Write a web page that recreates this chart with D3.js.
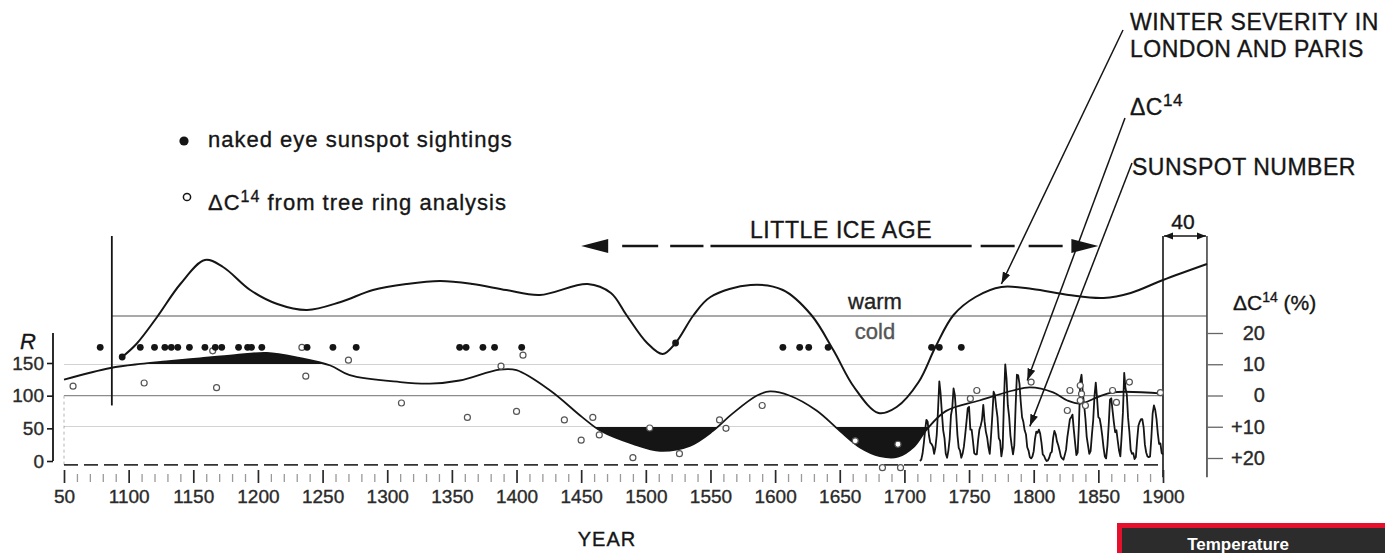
<!DOCTYPE html>
<html>
<head>
<meta charset="utf-8">
<script src="https://cdn.jsdelivr.net/npm/d3@7"></script>
<style>
  html, body { margin: 0; padding: 0; background: #fff; }
  svg { display: block; font-family: "Liberation Sans", Arial, Helvetica, sans-serif; }
  svg text { stroke: currentColor; stroke-width: 0.35px; paint-order: stroke; }
  svg text.plain { stroke: none; }
</style>
</head>
<body>
<svg id="chart" width="1385" height="553" style="color:#151515"></svg>
<script>
// ---------- axis ticks ----------
const yearTicks = [1050, 1100, 1150, 1200, 1250, 1300, 1350, 1400, 1450, 1500, 1550, 1600, 1650, 1700, 1750, 1800, 1850, 1900];
const yearTickLabels = ["50", "1100", "1150", "1200", "1250", "1300", "1350", "1400", "1450", "1500", "1550", "1600", "1650", "1700", "1750", "1800", "1850", "1900"];
const minorYearTicks = [1060,1070,1080,1090,1110,1120,1130,1140,1160,1170,1180,1190,1210,1220,1230,1240,1260,1270,1280,1290,1310,1320,1330,1340,1360,1370,1380,1390,1410,1420,1430,1440,1460,1470,1480,1490,1510,1520,1530,1540,1560,1570,1580,1590,1610,1620,1630,1640,1660,1670,1680,1690,1710,1720,1730,1740,1760,1770,1780,1790,1810,1820,1830,1840,1860,1870,1880,1890];
const rTicks = [0, 50, 100, 150];
const rTickLabels = ["0", "50", "100", "150"];
const c14Ticks = [-20, -10, 0, 10, 20];
const c14TickLabels = ["20", "10", "0", "+10", "+20"];

// ---------- winter severity in London and Paris (index, + = warm) ----------
const winterYears = [1095, 1106, 1122, 1140, 1159, 1173, 1194, 1215, 1238, 1264, 1289, 1315, 1341, 1366, 1392, 1418, 1455, 1473, 1485, 1501, 1513, 1523, 1537, 1550, 1581, 1606, 1628, 1645, 1661, 1680, 1694, 1711, 1724, 1738, 1755, 1775, 1799, 1827, 1854, 1875, 1900, 1934];
const winterIndex = [-2.05, -1.4, -0.05, 1.6, 2.8, 2.45, 1.3, 0.6, 0.3, 0.7, 1.3, 1.6, 1.75, 1.6, 1.3, 1.05, 1.6, 1.15, 0.05, -1.35, -1.9, -1.35, 0.05, 0.95, 1.55, 1.3, 0.05, -1.7, -3.55, -4.85, -4.55, -3.3, -1.55, 0.05, 0.95, 1.45, 1.35, 1.05, 0.9, 1.15, 1.8, 2.6];

// ---------- smoothed ΔC14 (inverted axis) ----------
const c14Years = [1050, 1086, 1109, 1129, 1155, 1182, 1207, 1232, 1256, 1271, 1310, 1333, 1356, 1387, 1400, 1426, 1451, 1465, 1490, 1511, 1534, 1552, 1567, 1586, 1596, 1611, 1632, 1650, 1666, 1681, 1695, 1707, 1717, 1732, 1758, 1784, 1797, 1815, 1826, 1836, 1849, 1861, 1900];
const c14Values = [-5.1, -8.8, -10.1, -10.9, -11.9, -12.9, -13.6, -12.0, -9.6, -6.5, -4.3, -3.8, -4.8, -8.3, -8.1, -1.6, 7.0, 11.3, 15.5, 17.7, 16.1, 11.3, 5.8, 0, -1.3, 0, 4.8, 11.3, 16.7, 19.4, 19.6, 16.5, 11.0, 5.0, 1.6, -1.6, -2.6, -1.0, 1.6, 2.6, 0.6, -1.0, -0.6];

// ---------- ΔC14 from tree ring analysis ----------
const ringYears = [1057, 1112, 1168, 1165, 1234, 1237, 1270, 1311, 1362, 1388, 1400, 1405, 1437, 1450, 1459, 1464, 1490, 1503, 1526, 1557, 1562, 1590, 1662, 1683, 1697, 1695, 1751, 1756, 1798, 1826, 1828, 1836, 1837, 1836, 1840, 1861, 1864, 1874, 1898];
const ringValues = [-3.0, -4.0, -2.5, -14.3, -15.4, -6.2, -11.3, 2.4, 7.0, -9.4, 5.1, -12.9, 7.8, 14.3, 7.0, 12.6, 19.9, 10.4, 18.6, 7.8, 10.5, 3.2, 14.5, 23.1, 23.1, 15.6, 1.0, -1.6, -4.3, 4.8, -1.6, -3.2, -0.5, 1.6, 3.2, -1.6, 2.2, -4.3, -0.9];

// ---------- naked eye sunspot sightings ----------
const sightingYears = [1078, 1109, 1120, 1128, 1133, 1138, 1147, 1159, 1167, 1172, 1185, 1192, 1195, 1203, 1238, 1258, 1276, 1356, 1361, 1374, 1383, 1404, 1606, 1619, 1626, 1641, 1721, 1727, 1744];
const curveSightingYears = [1095, 1523];

// ---------- annual sunspot number, 1712-1900 ----------
const sunspotYears = d3.range(1712, 1901);
const sunspotNumbers = [
  0, 2, 11, 27, 47, 63, 60, 39, 28, 26,
  22, 11, 21, 40, 78, 122, 103, 73, 47, 35,
  11, 5, 16, 34, 70, 81, 111, 101, 73, 40,
  20, 16, 5, 11, 22, 40, 60, 81, 83, 48,
  48, 31, 12, 10, 10, 32, 48, 54, 63, 86,
  61, 45, 36, 21, 11, 38, 70, 106, 101, 82,
  67, 35, 31, 7, 20, 93, 148, 126, 85, 68,
  39, 23, 10, 24, 83, 132, 131, 118, 90, 67,
  60, 47, 41, 21, 16, 6, 4, 7, 15, 34,
  45, 43, 48, 42, 28, 10, 8, 3, 0, 1,
  5, 12, 14, 35, 46, 41, 30, 24, 16, 7,
  4, 2, 9, 17, 36, 50, 64, 67, 71, 48,
  28, 9, 13, 57, 122, 132, 103, 86, 65, 37,
  24, 11, 15, 40, 62, 99, 120, 96, 67, 65,
  54, 39, 21, 7, 4, 23, 55, 94, 96, 77,
  59, 44, 47, 31, 16, 7, 38, 74, 135, 111,
  102, 66, 45, 17, 11, 12, 3, 6, 32, 54,
  60, 64, 64, 52, 25, 13, 7, 6, 7, 36,
  73, 85, 78, 64, 42, 26, 27, 12, 10
];

// ---------- layout ----------
const W = 1385, H = 553;
const svg = d3.select("#chart");
const ink = "#151515";
const grey = "#8c8c8c";

const x = d3.scaleLinear().domain([1050, 1900]).range([64, 1163]);
const yR = d3.scaleLinear().domain([0, 150]).range([461, 363]);      // sunspot number R
const yC = d3.scaleLinear().domain([-20, 20]).range([333, 458]);     // ΔC14 (%)
const yW = d3.scaleLinear().domain([-5, 3]).range([416, 256]);       // winter severity

const recordStartYear = 1087;   // start of the winter record
const lagEndYear = 1934;        // right edge of the 40-year lag box
const liaFrom = 1450, liaTo = 1850, liaSolidFrom = 1550, liaSolidTo = 1752;
const baselineR = -6;
const sightingRowR = 174;

const defs = svg.append("defs");
defs.append("marker")
  .attr("id", "tip").attr("markerUnits", "userSpaceOnUse")
  .attr("viewBox", "0 -5 12 10").attr("refX", 12).attr("refY", 0)
  .attr("markerWidth", 12).attr("markerHeight", 10).attr("orient", "auto")
  .append("path").attr("d", "M0,-4L12,0L0,4Z").attr("fill", ink);
defs.append("marker")
  .attr("id", "tipSmall").attr("markerUnits", "userSpaceOnUse")
  .attr("viewBox", "0 -4 9 8").attr("refX", 9).attr("refY", 0)
  .attr("markerWidth", 9).attr("markerHeight", 8).attr("orient", "auto-start-reverse")
  .append("path").attr("d", "M0,-3.5L9,0L0,3.5Z").attr("fill", ink);
defs.append("clipPath").attr("id", "clipHigh")
  .append("rect").attr("x", 0).attr("y", 0).attr("width", W).attr("height", yC(-10));
defs.append("clipPath").attr("id", "clipLow")
  .append("rect").attr("x", 0).attr("y", yC(10)).attr("width", W).attr("height", H - yC(10));

// ---------- corner tag ----------
svg.append("rect").attr("x", 1119.5).attr("y", 525.5).attr("width", 300).attr("height", 60)
  .attr("fill", "#2c2c2c").attr("stroke", "#e4102c").attr("stroke-width", 5);
svg.append("text").attr("class", "plain").attr("x", 1238).attr("y", 550).attr("text-anchor", "middle")
  .attr("fill", "#fff").attr("font-size", 17).attr("font-weight", "bold").text("Temperature");

// ---------- reference lines ----------
svg.append("line")
  .attr("x1", x(recordStartYear)).attr("x2", x(lagEndYear))
  .attr("y1", yW(0)).attr("y2", yW(0))
  .attr("stroke", grey).attr("stroke-width", 1.4);
svg.append("line")
  .attr("x1", x(1050)).attr("x2", x(1900))
  .attr("y1", yR(100)).attr("y2", yR(100))
  .attr("stroke", grey).attr("stroke-width", 1.4);
svg.append("line")
  .attr("x1", x(1050)).attr("x2", x(1050))
  .attr("y1", yR(100)).attr("y2", yR(baselineR))
  .attr("stroke", "#b5b5b5").attr("stroke-width", 1).attr("stroke-dasharray", "3 3");
svg.append("line")
  .attr("x1", x(recordStartYear)).attr("x2", x(recordStartYear))
  .attr("y1", yW(4)).attr("y2", yR(85))
  .attr("stroke", ink).attr("stroke-width", 1.8);
svg.append("line")
  .attr("x1", x(1050)).attr("x2", x(1900))
  .attr("y1", yR(baselineR)).attr("y2", yR(baselineR))
  .attr("stroke", "#333").attr("stroke-width", 1.6).attr("stroke-dasharray", "14 6");

// lag box
svg.append("line").attr("x1", x(1900)).attr("x2", x(1900))
  .attr("y1", yW(4)).attr("y2", yR(-25)).attr("stroke", ink).attr("stroke-width", 1.6);
svg.append("line").attr("x1", x(lagEndYear)).attr("x2", x(lagEndYear))
  .attr("y1", yW(4)).attr("y2", yR(-25)).attr("stroke", "#444").attr("stroke-width", 1.6);
svg.append("line").attr("x1", x(1900) + 1).attr("x2", x(lagEndYear) - 1)
  .attr("y1", yW(4)).attr("y2", yW(4)).attr("stroke", ink).attr("stroke-width", 1.5)
  .attr("marker-start", "url(#tipSmall)").attr("marker-end", "url(#tipSmall)");
svg.append("text").attr("x", (x(1900) + x(lagEndYear)) / 2 - 2).attr("y", yW(4) - 7)
  .attr("text-anchor", "middle").attr("font-size", 21).attr("fill", ink).text("40");

// ---------- year axis ----------
const xMinor = svg.append("g").attr("transform", "translate(0,474)")
  .call(d3.axisBottom(x).tickValues(minorYearTicks).tickSize(8).tickFormat(""));
xMinor.select(".domain").remove();
xMinor.selectAll("line").attr("stroke", "#9a9a9a").attr("stroke-width", 1.3);

const xMajor = svg.append("g").attr("transform", "translate(0,470)")
  .call(d3.axisBottom(x).tickValues(yearTicks).tickSize(13).tickPadding(7)
    .tickFormat((d, i) => yearTickLabels[i]));
xMajor.select(".domain").remove();
xMajor.selectAll("line").attr("stroke", "#2a2a2a").attr("stroke-width", 1.7);
xMajor.selectAll("text").attr("font-size", 19).attr("fill", "#2a2a2a").style("color", "#2a2a2a")
  .attr("font-family", "Liberation Sans, Arial, sans-serif");

svg.append("text").attr("x", 607).attr("y", 546).attr("text-anchor", "middle")
  .attr("font-size", 20).attr("letter-spacing", 1).attr("fill", ink).text("YEAR");

// ---------- R axis ----------
const rAxis = svg.append("g").attr("transform", "translate(53,0)")
  .call(d3.axisLeft(yR).tickValues(rTicks).tickSize(6).tickPadding(3)
    .tickFormat((d, i) => rTickLabels[i]));
rAxis.select(".domain").remove();
rAxis.selectAll("line").attr("stroke", ink).attr("stroke-width", 1.6);
rAxis.selectAll("text").attr("font-size", 19).attr("fill", "#2a2a2a").style("color", "#2a2a2a")
  .attr("font-family", "Liberation Sans, Arial, sans-serif");
svg.append("line").attr("x1", 53).attr("x2", 53).attr("y1", yC(-20)).attr("y2", yR(0))
  .attr("stroke", ink).attr("stroke-width", 1.8);
svg.append("text").attr("x", 28).attr("y", 349).attr("text-anchor", "middle")
  .attr("font-size", 22).attr("font-style", "italic").attr("fill", ink).text("R");

// ---------- ΔC14 axis ----------
const cAxis = svg.append("g").attr("transform", `translate(${x(lagEndYear)},0)`)
  .call(d3.axisRight(yC).tickValues(c14Ticks).tickSize(16).tickPadding(0)
    .tickFormat((d, i) => c14TickLabels[i]));
cAxis.select(".domain").remove();
cAxis.selectAll("line").attr("stroke", "#666").attr("stroke-width", 1.3);
cAxis.selectAll("text").attr("x", 58).attr("text-anchor", "end")
  .attr("font-size", 20).attr("fill", "#2a2a2a").style("color", "#2a2a2a")
  .attr("font-family", "Liberation Sans, Arial, sans-serif");
const cLabel = svg.append("text").attr("x", 1233).attr("y", 310)
  .attr("font-size", 21).attr("fill", ink);
cLabel.append("tspan").text("ΔC");
cLabel.append("tspan").attr("font-size", 14).attr("dy", -8).text("14");
cLabel.append("tspan").attr("dy", 8).text(" (%)");

// ---------- ΔC14 extremes (filled) ----------
const c14Pts = c14Years.map((yr, i) => [yr, c14Values[i]]);
const c14Curve = d3.curveCatmullRom.alpha(0.5);
svg.append("path").datum(c14Pts)
  .attr("clip-path", "url(#clipHigh)")
  .attr("d", d3.area().x(d => x(d[0])).y0(yC(-10)).y1(d => yC(d[1])).curve(c14Curve))
  .attr("fill", ink);
svg.append("path").datum(c14Pts)
  .attr("clip-path", "url(#clipLow)")
  .attr("d", d3.area().x(d => x(d[0])).y0(yC(10)).y1(d => yC(d[1])).curve(c14Curve))
  .attr("fill", ink);
svg.append("path").datum(c14Pts)
  .attr("d", d3.line().x(d => x(d[0])).y(d => yC(d[1])).curve(c14Curve))
  .attr("fill", "none").attr("stroke", ink).attr("stroke-width", 1.8);

// ---------- sunspot number ----------
svg.append("path").datum(sunspotYears.map((yr, i) => [yr, sunspotNumbers[i]]))
  .attr("d", d3.line().x(d => x(d[0])).y(d => yR(d[1])))
  .attr("fill", "none").attr("stroke", ink).attr("stroke-width", 1.8)
  .attr("stroke-linejoin", "round");

// ---------- winter severity ----------
const winterPts = winterYears.map((yr, i) => [yr, winterIndex[i]]);
svg.append("path").datum(winterPts)
  .attr("d", d3.line().x(d => x(d[0])).y(d => yW(d[1])).curve(d3.curveCatmullRom.alpha(0.5)))
  .attr("fill", "none").attr("stroke", ink).attr("stroke-width", 2);

svg.append("text").attr("x", 875).attr("y", 309).attr("text-anchor", "middle")
  .attr("font-size", 22).attr("fill", "#222").style("color", "#222").text("warm");
svg.append("text").attr("x", 875).attr("y", 339).attr("text-anchor", "middle")
  .attr("font-size", 22).attr("fill", "#555").style("color", "#555").text("cold");

// ---------- tree ring ΔC14 ----------
svg.append("g").selectAll("circle")
  .data(ringYears.map((yr, i) => [yr, ringValues[i]]))
  .join("circle")
  .attr("cx", d => x(d[0])).attr("cy", d => yC(d[1])).attr("r", 3)
  .attr("fill", "#fff").attr("stroke", "#555").attr("stroke-width", 1.2);

// ---------- naked eye sightings ----------
svg.append("g").selectAll("circle")
  .data(sightingYears)
  .join("circle")
  .attr("cx", d => x(d)).attr("cy", yR(sightingRowR)).attr("r", 3.4).attr("fill", ink);
svg.append("g").selectAll("circle")
  .data(curveSightingYears)
  .join("circle")
  .attr("cx", d => x(d)).attr("cy", d => yW(winterIndex[winterYears.indexOf(d)]))
  .attr("r", 3.4).attr("fill", ink);

// ---------- legend ----------
svg.append("circle").attr("cx", 184).attr("cy", 141).attr("r", 4.6).attr("fill", ink);
svg.append("text").attr("x", 208).attr("y", 147).attr("font-size", 22)
  .attr("letter-spacing", 1).attr("fill", ink).text("naked eye sunspot sightings");
svg.append("circle").attr("cx", 187).attr("cy", 197).attr("r", 3.6)
  .attr("fill", "#fff").attr("stroke", ink).attr("stroke-width", 1.5);
const lg2 = svg.append("text").attr("x", 208).attr("y", 210).attr("font-size", 22)
  .attr("letter-spacing", 1).attr("fill", ink);
lg2.append("tspan").text("ΔC");
lg2.append("tspan").attr("font-size", 16).attr("dy", -8).text("14");
lg2.append("tspan").attr("dy", 8).text(" from tree ring analysis");

// ---------- Little Ice Age arrow ----------
const yLia = yW(3.5);
const xl = x(liaFrom), xr = x(liaTo);
svg.append("path").attr("d", `M${xl},${yLia}L${xl + 27},${yLia - 7}L${xl + 27},${yLia + 7}Z`).attr("fill", ink);
svg.append("path").attr("d", `M${xr},${yLia}L${xr - 27},${yLia - 7}L${xr - 27},${yLia + 7}Z`).attr("fill", ink);
svg.append("line").attr("x1", xl + 41).attr("x2", x(liaSolidFrom) - 7)
  .attr("y1", yLia).attr("y2", yLia).attr("stroke", ink).attr("stroke-width", 2.4)
  .attr("stroke-dasharray", "36 12");
svg.append("line").attr("x1", x(liaSolidFrom)).attr("x2", x(liaSolidTo))
  .attr("y1", yLia).attr("y2", yLia).attr("stroke", ink).attr("stroke-width", 2.4);
svg.append("line").attr("x1", x(liaSolidTo) + 9).attr("x2", xr - 30)
  .attr("y1", yLia).attr("y2", yLia).attr("stroke", ink).attr("stroke-width", 2.4)
  .attr("stroke-dasharray", "34 14");
svg.append("text").attr("x", 841).attr("y", 238).attr("text-anchor", "middle")
  .attr("font-size", 23).attr("letter-spacing", 0.6).attr("fill", ink).text("LITTLE ICE AGE");

// ---------- series call-outs ----------
const note = (tx, ty) => svg.append("text").attr("x", tx).attr("y", ty)
  .attr("font-size", 23).attr("letter-spacing", 0.5).attr("fill", ink);
note(1130, 30).text("WINTER SEVERITY IN");
note(1130, 57).text("LONDON AND PARIS");
const nC = note(1130, 115);
nC.append("tspan").text("ΔC");
nC.append("tspan").attr("font-size", 17).attr("dy", -9).text("14");
note(1132, 175).text("SUNSPOT NUMBER");

const leaders = [
  { from: [1123, 30], to: [x(1775), yW(1.6)] },
  { from: [1125, 118], to: [x(1795), yC(-4.8)] },
  { from: [1132, 163], to: [x(1797), yR(53)] }
];
svg.append("g").selectAll("line").data(leaders).join("line")
  .attr("x1", d => d.from[0]).attr("y1", d => d.from[1])
  .attr("x2", d => d.to[0]).attr("y2", d => d.to[1])
  .attr("stroke", ink).attr("stroke-width", 1.5).attr("marker-end", "url(#tip)");
</script>
</body>
</html>
